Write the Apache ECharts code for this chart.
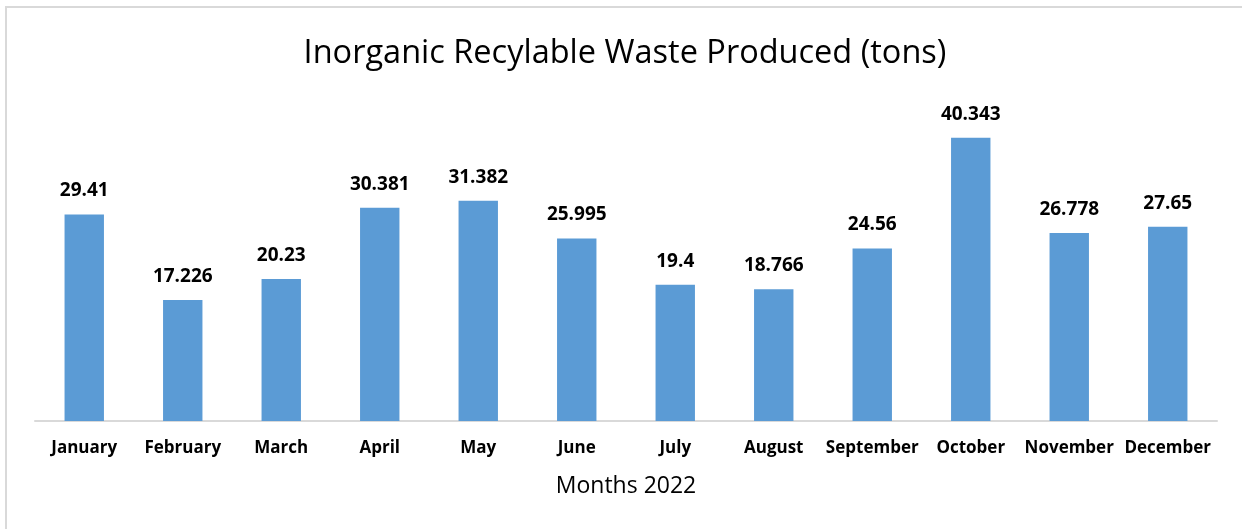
<!DOCTYPE html>
<html>
<head>
<meta charset="utf-8">
<title>Inorganic Recylable Waste Produced</title>
<script src="https://cdn.jsdelivr.net/npm/echarts@6/dist/echarts.min.js"></script>
<style>
    html, body { margin: 0; padding: 0; background: #fff; }
    #frame {
        position: absolute; left: 5px; top: 6px; width: 1300px; height: 600px;
        border-top: 2px solid #d9d9d9; border-left: 2px solid #d9d9d9;
    }
    #chart { position: absolute; left: 0; top: 0; width: 1242px; height: 529px; }
</style>
</head>
<body>
<div id="frame"></div>
<div id="chart"></div>
<script>
    var months = ['January', 'February', 'March', 'April', 'May', 'June',
        'July', 'August', 'September', 'October', 'November', 'December'];
    var waste = [29.41, 17.226, 20.23, 30.381, 31.382, 25.995,
        19.4, 18.766, 24.56, 40.343, 26.778, 27.65];

    var chart = echarts.init(document.getElementById('chart'));
    var font = '"Open Sans", "Noto Sans", sans-serif';

    chart.setOption({
        animation: false,
        backgroundColor: 'transparent',
        title: {
            text: 'Inorganic Recylable Waste Produced (tons)',
            left: 620,
            textAlign: 'center',
            top: 32,
            textStyle: { fontFamily: font, fontSize: 32.5, fontWeight: 'normal', color: '#000' }
        },
        grid: { left: 35, right: 25, top: 105, bottom: 108 },
        xAxis: {
            type: 'category',
            data: months,
            name: 'Months 2022',
            nameLocation: 'middle',
            nameGap: 54,
            nameTextStyle: { fontFamily: font, fontSize: 23, color: '#000' },
            axisLine: { lineStyle: { color: '#d9d9d9', width: 2 } },
            axisTick: { show: false },
            axisLabel: {
                interval: 0,
                margin: 19,
                fontFamily: font,
                fontSize: 17,
                fontWeight: 'bold',
                color: '#000'
            }
        },
        yAxis: {
            type: 'value',
            min: 0,
            max: 45,
            show: false
        },
        series: [{
            type: 'bar',
            data: waste,
            barWidth: '40%',
            itemStyle: { color: '#5b9bd5' },
            label: {
                show: true,
                position: 'top',
                distance: 14,
                fontFamily: font,
                fontSize: 19,
                fontWeight: 'bold',
                color: '#000'
            }
        }]
    });
</script>
</body>
</html>
